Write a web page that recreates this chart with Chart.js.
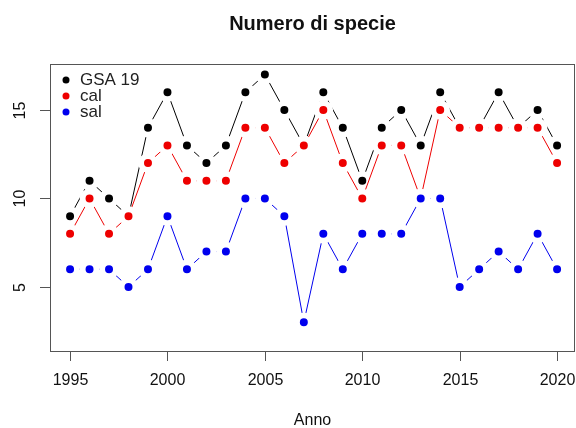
<!DOCTYPE html>
<html>
<head>
<meta charset="utf-8">
<script src="https://cdn.jsdelivr.net/npm/chart.js@4/dist/chart.umd.min.js"></script>
<style>
  html, body { margin: 0; padding: 0; background: #ffffff; }
  #wrap { width: 576px; height: 428px; }
</style>
</head>
<body>
<div id="wrap"><canvas id="c" width="576" height="428"></canvas></div>
<script>
// Numero di specie per anno
const years = [1995, 1996, 1997, 1998, 1999, 2000, 2001, 2002, 2003, 2004, 2005, 2006, 2007,
               2008, 2009, 2010, 2011, 2012, 2013, 2014, 2015, 2016, 2017, 2018, 2019, 2020];
const gsa19 = [9, 11, 10, 9, 14, 16, 13, 12, 13, 16, 17, 15, 13, 16, 14, 11, 14, 15, 13, 16, 14, 14, 16, 14, 15, 13];
const cal   = [8, 10, 8, 9, 12, 13, 11, 11, 11, 14, 14, 12, 13, 15, 12, 10, 13, 13, 10, 15, 14, 14, 14, 14, 14, 12];
const sal   = [6, 6, 6, 5, 6, 9, 6, 7, 7, 10, 10, 9, 3, 8, 6, 8, 8, 8, 10, 10, 5, 6, 7, 6, 8, 6];

const seriesNames = ['GSA 19', 'cal', 'sal'];
const seriesColors = ['#000000', '#ee0000', '#0000ee'];

const xTicks = [1995, 2000, 2005, 2010, 2015, 2020];
const yTicks = [5, 10, 15];

const titleText = 'Numero di specie';
const xTitle = 'Anno';

const FONT = '"Liberation Sans", Arial, sans-serif';

function pts(vals) {
  return years.map((y, i) => ({ x: y, y: vals[i] }));
}

// Points get a white halo so each line stops short of its markers ("both" style)
function ds(label, vals, color, order) {
  return {
    label,
    data: pts(vals),
    borderColor: color,
    backgroundColor: color,
    pointBackgroundColor: color,
    pointBorderColor: '#ffffff',
    borderWidth: 1,
    pointRadius: 6.9,
    pointBorderWidth: 5.8,
    pointHoverRadius: 6.9,
    tension: 0,
    order
  };
}

// Frame, axes, titles and legend
const frame = {
  id: 'frame',
  afterDraw(chart) {
    const ctx = chart.ctx;
    const a = chart.chartArea;
    const xs = chart.scales.x, ys = chart.scales.y;
    ctx.save();

    // box
    ctx.strokeStyle = '#555555';
    ctx.lineWidth = 1;
    ctx.strokeRect(Math.round(a.left) + 0.5, Math.round(a.top) + 0.5,
                   Math.round(a.right - a.left) - 1, Math.round(a.bottom - a.top));

    // x axis ticks and labels
    ctx.fillStyle = '#111111';
    ctx.font = '16px ' + FONT;
    ctx.textAlign = 'center';
    ctx.textBaseline = 'middle';
    xTicks.forEach(v => {
      const px = Math.round(xs.getPixelForValue(v)) + 0.5;
      ctx.beginPath();
      ctx.moveTo(px, a.bottom);
      ctx.lineTo(px, a.bottom + 10);
      ctx.stroke();
      ctx.fillText(String(v), px, a.bottom + 30);
    });

    // y axis ticks and rotated labels
    yTicks.forEach(v => {
      const py = Math.round(ys.getPixelForValue(v)) + 0.5;
      ctx.beginPath();
      ctx.moveTo(a.left, py);
      ctx.lineTo(a.left - 10, py);
      ctx.stroke();
      ctx.save();
      ctx.translate(a.left - 29, py);
      ctx.rotate(-Math.PI / 2);
      ctx.fillText(String(v), 0, 0);
      ctx.restore();
    });

    // titles
    const cx = (a.left + a.right) / 2;
    ctx.font = 'bold 20px ' + FONT;
    ctx.fillText(titleText, cx, 24);
    ctx.font = '16px ' + FONT;
    ctx.fillText(xTitle, cx, 421);

    // legend (top-left, inside the plot box)
    ctx.textAlign = 'left';
    ctx.font = '17px ' + FONT;
    seriesNames.forEach((name, i) => {
      const ly = a.top + 16 + i * 16;
      ctx.fillStyle = seriesColors[i];
      ctx.beginPath();
      ctx.arc(a.left + 16, ly, 3.5, 0, Math.PI * 2);
      ctx.fill();
      ctx.fillStyle = '#222222';
      ctx.fillText(name, a.left + 30, ly);
    });

    ctx.restore();
  }
};

new Chart(document.getElementById('c'), {
  type: 'line',
  data: {
    datasets: [
      ds(seriesNames[0], gsa19, seriesColors[0], 3),
      ds(seriesNames[1], cal, seriesColors[1], 2),
      ds(seriesNames[2], sal, seriesColors[2], 1)
    ]
  },
  options: {
    responsive: false,
    animation: false,
    layout: { autoPadding: false, padding: { left: 50, top: 64, right: 1, bottom: 77 } },
    plugins: {
      legend: { display: false },
      title: { display: false },
      tooltip: { enabled: false }
    },
    scales: {
      x: { type: 'linear', min: 1993.97, max: 2020.92, display: false },
      y: { type: 'linear', min: 1.38, max: 17.6, display: false }
    }
  },
  plugins: [frame]
});
</script>
</body>
</html>
